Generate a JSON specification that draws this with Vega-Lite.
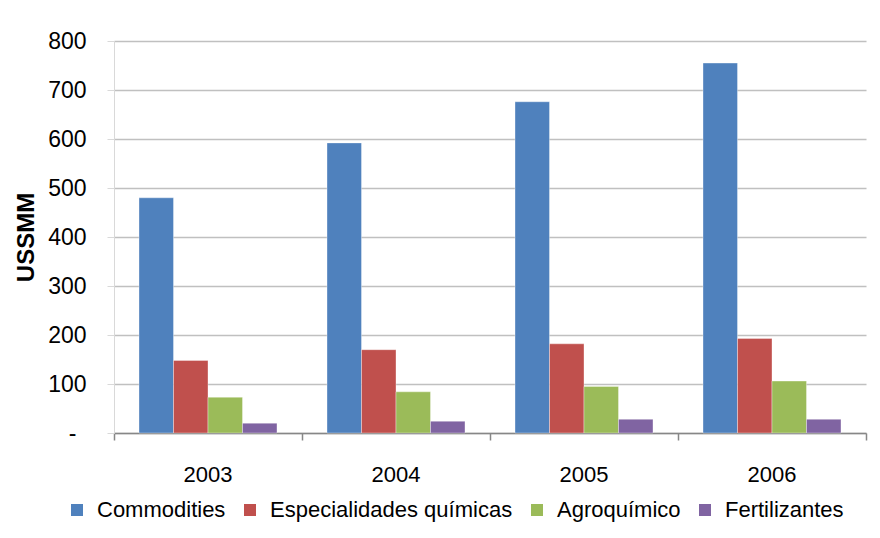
{
  "$schema": "https://vega.github.io/schema/vega-lite/v6.json",
  "width": 752,
  "height": 392,
  "autosize": {"type": "none"},
  "padding": {"left": 114, "top": 41, "right": 14, "bottom": 105},
  "background": "white",
  "config": {"font": "Liberation Sans", "view": {"stroke": null}},
  "data": {
    "values": [
      {"year": "2003", "serie": "Commodities", "value": 480},
      {"year": "2003", "serie": "Especialidades químicas", "value": 148},
      {"year": "2003", "serie": "Agroquímico", "value": 73},
      {"year": "2003", "serie": "Fertilizantes", "value": 20},
      {"year": "2004", "serie": "Commodities", "value": 592},
      {"year": "2004", "serie": "Especialidades químicas", "value": 170},
      {"year": "2004", "serie": "Agroquímico", "value": 84},
      {"year": "2004", "serie": "Fertilizantes", "value": 24},
      {"year": "2005", "serie": "Commodities", "value": 676},
      {"year": "2005", "serie": "Especialidades químicas", "value": 182},
      {"year": "2005", "serie": "Agroquímico", "value": 95},
      {"year": "2005", "serie": "Fertilizantes", "value": 28},
      {"year": "2006", "serie": "Commodities", "value": 755},
      {"year": "2006", "serie": "Especialidades químicas", "value": 193},
      {"year": "2006", "serie": "Agroquímico", "value": 106},
      {"year": "2006", "serie": "Fertilizantes", "value": 28}
    ]
  },
  "mark": {"type": "bar", "stroke": "#ffffff", "strokeOpacity": 0.35, "strokeWidth": 1},
  "encoding": {
    "x": {
      "field": "year",
      "type": "nominal",
      "scale": {"paddingInner": 0, "paddingOuter": 0},
      "axis": {
        "title": null,
        "labelAngle": 0,
        "labelFontSize": 22,
        "labelColor": "#000000",
        "labelPadding": 24,
        "domainColor": "#878787",
        "domainWidth": 1.5,
        "tickColor": "#878787",
        "tickWidth": 1.5,
        "tickSize": 7,
        "bandPosition": 1,
        "tickExtra": true,
        "grid": false
      }
    },
    "xOffset": {
      "field": "serie",
      "type": "nominal",
      "sort": ["Commodities", "Especialidades químicas", "Agroquímico", "Fertilizantes"],
      "scale": {"paddingInner": 0, "paddingOuter": 0.725}
    },
    "y": {
      "field": "value",
      "type": "quantitative",
      "scale": {"domain": [0, 800]},
      "axis": {
        "values": [0, 100, 200, 300, 400, 500, 600, 700, 800],
        "title": "USSMM",
        "titleFontSize": 24,
        "titleFontWeight": "bold",
        "titleColor": "#000000",
        "titlePadding": 9,
        "labelFontSize": 23,
        "labelColor": "#000000",
        "labelPadding": {"condition": {"test": "datum.value === 0", "value": 31}, "value": 21},
        "labelExpr": "datum.value === 0 ? '-' : datum.label",
        "tickSize": 7,
        "tickColor": "#d9d9d9",
        "domainColor": "#d9d9d9",
        "gridColor": "#c0c0c0",
        "gridWidth": 1.5
      }
    },
    "color": {
      "field": "serie",
      "type": "nominal",
      "sort": ["Commodities", "Especialidades químicas", "Agroquímico", "Fertilizantes"],
      "scale": {
        "domain": ["Commodities", "Especialidades químicas", "Agroquímico", "Fertilizantes"],
        "range": ["#4F81BD", "#C0504D", "#9BBB59", "#8064A2"]
      },
      "legend": {
        "orient": "none",
        "legendX": -48,
        "legendY": 458,
        "direction": "horizontal",
        "title": null,
        "symbolType": "square",
        "symbolSize": 144,
        "symbolStrokeWidth": 0,
        "labelFontSize": 22,
        "labelColor": "#000000",
        "labelLimit": 400,
        "labelOffset": 9,
        "columnPadding": 13
      }
    }
  }
}
